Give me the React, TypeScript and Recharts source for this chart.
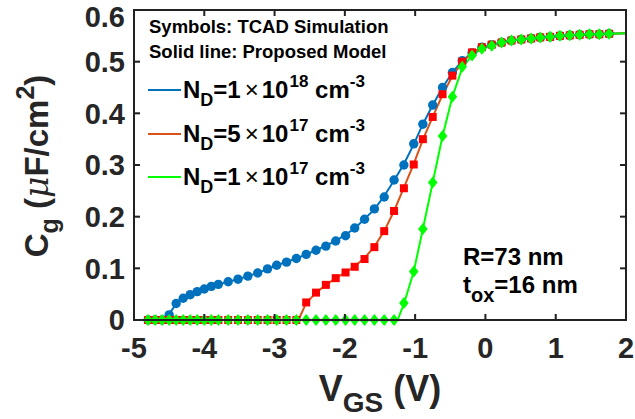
import React from "react";
import { ComposedChart, Line, Scatter, XAxis, YAxis } from "recharts";

const FONT = '"Liberation Sans", Arial, Helvetica, sans-serif';
const INK = "#262626";
const FRAME = "#222";

// TCAD sweep (V)
const vgsTcad = [
  -4.8, -4.7, -4.6, -4.5, -4.4, -4.3, -4.2, -4.1, -4.0, -3.9, -3.8,
  -3.66, -3.52, -3.38, -3.24, -3.1, -2.97, -2.83, -2.69, -2.55, -2.41,
  -2.27, -2.13, -1.99, -1.86, -1.72, -1.58, -1.44, -1.3, -1.16, -1.02,
  -0.89, -0.75, -0.61, -0.47, -0.33, -0.19, -0.05, 0.09, 0.23, 0.37,
  0.51, 0.65, 0.78, 0.92, 1.06, 1.2, 1.34, 1.48, 1.62, 1.76,
];

// TCAD Cg (uF/cm2)
const cgTcad1e18 = [
  0, 0, 0, 0.01, 0.032, 0.042, 0.049, 0.055, 0.06, 0.065, 0.069,
  0.074, 0.079, 0.085, 0.091, 0.099, 0.106, 0.112, 0.119, 0.127, 0.135,
  0.143, 0.153, 0.163, 0.178, 0.195, 0.215, 0.238, 0.271, 0.3, 0.341,
  0.379, 0.416, 0.45, 0.479, 0.502, 0.517, 0.528, 0.533, 0.537, 0.541,
  0.543, 0.545, 0.547, 0.548, 0.55, 0.551, 0.552, 0.553, 0.553, 0.554,
];
const cgTcad5e17 = [
  0, 0, 0, 0, 0, 0, 0, 0, 0, 0, 0,
  0, 0, 0, 0, 0, 0, 0, 0, 0.034, 0.053,
  0.068, 0.081, 0.092, 0.103, 0.118, 0.141, 0.172, 0.211, 0.255, 0.301,
  0.35, 0.393, 0.437, 0.473, 0.5, 0.518, 0.528, 0.533, 0.537, 0.541,
  0.543, 0.545, 0.547, 0.548, 0.55, 0.551, 0.552, 0.553, 0.553, 0.554,
];
const cgTcad1e17 = [
  0, 0, 0, 0, 0, 0, 0, 0, 0, 0, 0,
  0, 0, 0, 0, 0, 0, 0, 0, 0, 0,
  0, 0, 0, 0, 0, 0, 0, 0, 0.033, 0.094,
  0.176, 0.266, 0.356, 0.432, 0.49, 0.512, 0.525, 0.531, 0.537, 0.541,
  0.543, 0.545, 0.547, 0.548, 0.55, 0.551, 0.552, 0.553, 0.553, 0.554,
];

// proposed model curves
const vgsModel1e18 = [
  -4.8, -4.59, -4.5, -4.4, -4.3, -4.2, -4.1, -4.0, -3.8, -3.52, -3.24,
  -2.97, -2.69, -2.41, -2.13, -1.86, -1.58, -1.44, -1.3, -1.16, -1.02,
  -0.89, -0.75, -0.61, -0.47, -0.33, -0.19, -0.05, 0.09, 0.37, 0.78,
  1.2, 1.62, 2.0,
];
const cgModel1e18 = [
  0, 0, 0.012, 0.031, 0.042, 0.049, 0.055, 0.06, 0.069, 0.079, 0.091,
  0.106, 0.119, 0.135, 0.153, 0.177, 0.214, 0.24, 0.27, 0.302, 0.34,
  0.379, 0.416, 0.45, 0.479, 0.502, 0.517, 0.528, 0.533, 0.541, 0.547,
  0.551, 0.5535, 0.555,
];
const vgsModel5e17 = [
  -4.8, -2.66, -2.55, -2.41, -2.27, -2.13, -1.99, -1.86, -1.72, -1.58,
  -1.44, -1.3, -1.16, -1.02, -0.89, -0.75, -0.61, -0.47, -0.33, -0.19,
  -0.05, 0.09, 0.37, 0.78, 1.2, 1.62, 2.0,
];
const cgModel5e17 = [
  0, 0, 0.033, 0.053, 0.068, 0.081, 0.092, 0.104, 0.12, 0.142,
  0.172, 0.211, 0.256, 0.302, 0.349, 0.393, 0.436, 0.472, 0.499, 0.517,
  0.528, 0.533, 0.541, 0.547, 0.551, 0.5535, 0.555,
];
const vgsModel1e17 = [
  -4.8, -1.25, -1.16, -1.02, -0.89, -0.75, -0.61, -0.47, -0.33, -0.19,
  -0.05, 0.09, 0.37, 0.78, 1.2, 1.62, 2.0,
];
const cgModel1e17 = [
  0, 0, 0.031, 0.094, 0.176, 0.266, 0.356, 0.432, 0.488, 0.512,
  0.525, 0.532, 0.541, 0.547, 0.551, 0.5535, 0.555,
];

const xTicks = [-5, -4, -3, -2, -1, 0, 1, 2];
const yTicks = [0, 0.1, 0.2, 0.3, 0.4, 0.5, 0.6];
const X_MIN = -5;
const X_MAX = 2;
const Y_MAX = 0.6;

const BLUE = "#0072BD";
const ORANGE = "#D95319";
const RED = "#FF0000";
const GREEN = "#00FF00";

// layout
const W = 635;
const H = 419;
const M_TOP = 10;
const M_RIGHT = 9;
const Y_AXIS_W = 134;
const X_AXIS_H = 99;
const PLOT_L = Y_AXIS_W;
const PLOT_R = W - M_RIGHT;
const PLOT_T = M_TOP;
const PLOT_B = H - X_AXIS_H;
const TICK_LEN = 6;

const pairs = (xs: number[], ys: number[]) => xs.map((v, i) => ({ v, c: ys[i] }));

const tcad18 = pairs(vgsTcad, cgTcad1e18);
const tcad5 = pairs(vgsTcad, cgTcad5e17);
const tcad17 = pairs(vgsTcad, cgTcad1e17);
const model18 = pairs(vgsModel1e18, cgModel1e18);
const model5 = pairs(vgsModel5e17, cgModel5e17);
const model17 = pairs(vgsModel1e17, cgModel1e17);

const CircleDot = (p: any) => <circle cx={p.cx} cy={p.cy} r={4.7} fill={BLUE} />;
const SquareDot = (p: any) => (
  <rect x={p.cx - 4} y={p.cy - 4} width={8} height={8} fill={RED} />
);
const DiamondDot = (p: any) => (
  <polygon
    points={`${p.cx},${p.cy - 6} ${p.cx + 4.8},${p.cy} ${p.cx},${p.cy + 6} ${p.cx - 4.8},${p.cy}`}
    fill={GREEN}
  />
);

const tickStyle = { fill: INK, fontSize: 29, fontWeight: 700, fontFamily: FONT };

const YLabel = () => (
  <text
    transform="translate(48,166) rotate(-90)"
    textAnchor="middle"
    fontFamily={FONT}
    fontWeight={700}
    fontSize={33}
    fill={INK}
  >
    C<tspan fontSize={25} dy={10}>g</tspan>
    <tspan dy={-10}> (</tspan>
    <tspan fontStyle="italic" fontWeight={400} fontFamily="'DejaVu Serif', serif">μ</tspan>
    <tspan>F/cm</tspan>
    <tspan fontSize={25} dy={-14}>2</tspan>
    <tspan dy={14}>)</tspan>
  </text>
);

const XLabel = () => (
  <text x={380} y={401} textAnchor="middle" fontFamily={FONT} fontWeight={700} fontSize={36} fill={INK}>
    V<tspan fontSize={28} dy={11}>GS</tspan>
    <tspan dy={-11}> (V)</tspan>
  </text>
);

const legendRows = [
  { color: BLUE, base: "1", exp: "18", y: 90 },
  { color: ORANGE, base: "5", exp: "17", y: 134 },
  { color: GREEN, base: "1", exp: "17", y: 177 },
];

// MATLAB-style box with inward ticks on all four sides
const xPos = (t: number) => PLOT_L + ((t - X_MIN) / (X_MAX - X_MIN)) * (PLOT_R - PLOT_L);
const yPos = (t: number) => PLOT_B - (t / Y_MAX) * (PLOT_B - PLOT_T);

const Frame = () => (
  <g stroke={FRAME} strokeWidth={2} fill="none">
    <rect x={PLOT_L} y={PLOT_T} width={PLOT_R - PLOT_L} height={PLOT_B - PLOT_T} />
    {xTicks.map((t) => (
      <g key={`x${t}`}>
        <line x1={xPos(t)} x2={xPos(t)} y1={PLOT_B} y2={PLOT_B - TICK_LEN} />
        <line x1={xPos(t)} x2={xPos(t)} y1={PLOT_T} y2={PLOT_T + TICK_LEN} />
      </g>
    ))}
    {yTicks.map((t) => (
      <g key={`y${t}`}>
        <line x1={PLOT_L} x2={PLOT_L + TICK_LEN} y1={yPos(t)} y2={yPos(t)} />
        <line x1={PLOT_R} x2={PLOT_R - TICK_LEN} y1={yPos(t)} y2={yPos(t)} />
      </g>
    ))}
  </g>
);

const Overlay = () => (
  <svg
    width={W}
    height={H}
    style={{ position: "absolute", left: 0, top: 0, pointerEvents: "none" }}
  >
    <Frame />
    <g fontFamily={FONT} fontWeight={700} fill="#000">
      <text x={149} y={33} fontSize={18.5}>Symbols: TCAD Simulation</text>
      <text x={149} y={58} fontSize={18.5}>Solid line: Proposed Model</text>
      {legendRows.map((r) => (
        <g key={r.y}>
          <line x1={148} x2={181} y1={r.y} y2={r.y} stroke={r.color} strokeWidth={2} />
          <text x={183} y={r.y + 8} fontSize={24}>
            N<tspan fontSize={18} dy={8}>D</tspan>
            <tspan dy={-8}>={r.base}</tspan>
            <tspan fontWeight={400} dx={4}>×</tspan>
            <tspan dx={3}>10</tspan>
            <tspan fontSize={17} dy={-11} dx={1}>{r.exp}</tspan>
            <tspan dy={11}> cm</tspan>
            <tspan fontSize={17} dy={-11}>-3</tspan>
          </text>
        </g>
      ))}
      <text x={463} y={265} fontSize={24}>R=73 nm</text>
      <text x={463} y={293} fontSize={24}>
        t<tspan fontSize={20} dy={9}>ox</tspan>
        <tspan dy={-9}>=16 nm</tspan>
      </text>
    </g>
  </svg>
);

export default function App() {
  return (
    <div style={{ position: "absolute", left: 0, top: 0, width: W, height: H, background: "#fff" }}>
      <ComposedChart width={W} height={H} margin={{ top: M_TOP, right: M_RIGHT, bottom: 0, left: 0 }}>
        <XAxis
          dataKey="v"
          type="number"
          domain={[X_MIN, X_MAX]}
          ticks={xTicks}
          height={X_AXIS_H}
          stroke={INK}
          tickSize={-TICK_LEN}
          tickMargin={23}
          tick={tickStyle}
          label={<XLabel />}
        />
        <YAxis
          dataKey="c"
          type="number"
          domain={[0, Y_MAX]}
          ticks={yTicks}
          width={Y_AXIS_W}
          stroke={INK}
          tickSize={-TICK_LEN}
          tickMargin={15}
          tick={tickStyle}
          label={<YLabel />}
        />

        <Line data={model18} dataKey="c" stroke={BLUE} strokeWidth={2} dot={false} activeDot={false} isAnimationActive={false} />
        <Scatter data={tcad18} dataKey="c" shape={CircleDot} isAnimationActive={false} />
        <Line data={model5} dataKey="c" stroke={ORANGE} strokeWidth={2} dot={false} activeDot={false} isAnimationActive={false} />
        <Scatter data={tcad5} dataKey="c" shape={SquareDot} isAnimationActive={false} />
        <Line data={model17} dataKey="c" stroke={GREEN} strokeWidth={2} dot={false} activeDot={false} isAnimationActive={false} />
        <Scatter data={tcad17} dataKey="c" shape={DiamondDot} isAnimationActive={false} />
      </ComposedChart>
      <Overlay />
    </div>
  );
}
